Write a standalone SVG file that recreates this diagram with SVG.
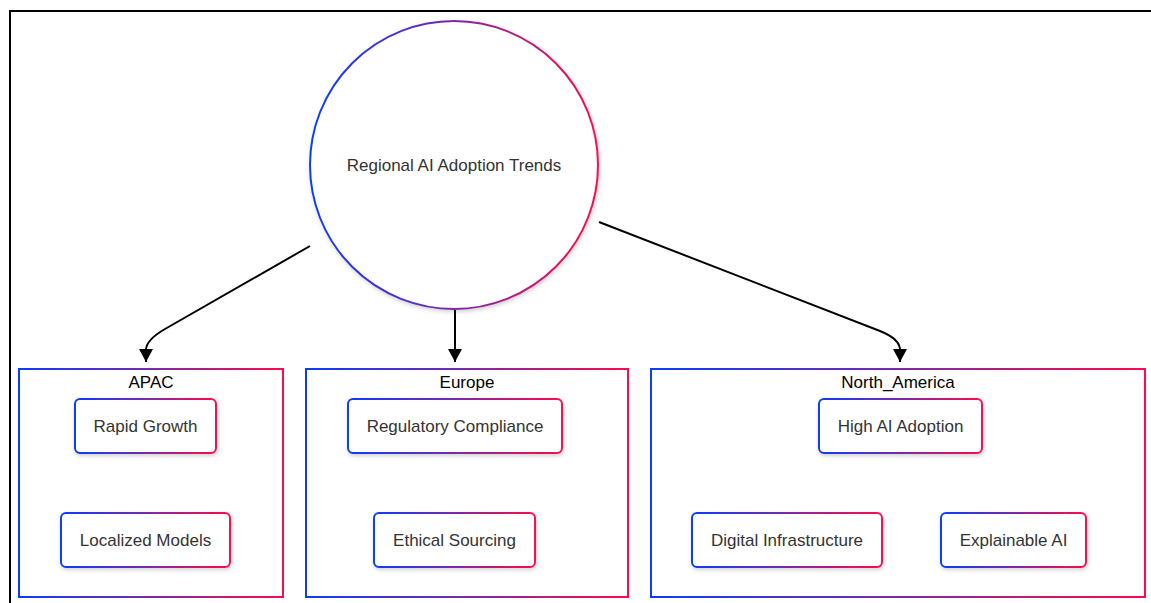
<svg xmlns="http://www.w3.org/2000/svg" width="1151" height="603" viewBox="0 0 1151 603">
<defs>
<linearGradient id="g" x1="0" y1="0" x2="1" y2="0" gradientUnits="objectBoundingBox">
<stop offset="0" stop-color="#0a3cff"/>
<stop offset="0.5" stop-color="#7a2aa8"/>
<stop offset="1" stop-color="#ff0a4a"/>
</linearGradient>
<filter id="sh" x="-20%" y="-20%" width="140%" height="150%">
<feDropShadow dx="1" dy="2" stdDeviation="2" flood-color="#000" flood-opacity="0.18"/>
</filter>
<marker id="ah" viewBox="0 0 14 13" refX="7" refY="13" markerWidth="14" markerHeight="13" markerUnits="userSpaceOnUse" orient="0">
<path d="M0,0 L14,0 L7,13 Z" fill="#000"/>
</marker>
</defs>
<style>
.cl{fill:#fff;stroke:url(#g);stroke-width:2}
.nd{fill:#fff;stroke:url(#g);stroke-width:2;filter:url(#sh)}
.t{font-family:"Liberation Sans",Arial,sans-serif;font-size:17px;fill:#333;text-anchor:middle;dominant-baseline:central}
.ct{font-family:"Liberation Sans",Arial,sans-serif;font-size:17px;fill:#000;text-anchor:middle;dominant-baseline:central}
.e{fill:none;stroke:#000;stroke-width:2}
</style>
<rect x="0" y="0" width="1151" height="603" fill="#fff"/>
<path d="M10,603 L10,11 L1151,11" fill="none" stroke="#000" stroke-width="2"/>

<g id="cluster-APAC">
<rect class="cl" x="19" y="369" width="264" height="228"/>
<text class="ct" x="151" y="382">APAC</text>
</g>
<g id="cluster-Europe">
<rect class="cl" x="306" y="369" width="322" height="228"/>
<text class="ct" x="467" y="382">Europe</text>
</g>
<g id="cluster-North_America">
<rect class="cl" x="651" y="369" width="494" height="228"/>
<text class="ct" x="898" y="382">North_America</text>
</g>

<g id="edges">
<path class="e" d="M310,246 L165,329 Q146,340 146,350 L146,362" marker-end="url(#ah)"/>
<path class="e" d="M455,310 L455,362" marker-end="url(#ah)"/>
<path class="e" d="M599,222 L880,331 Q900,339 900,350 L900,362" marker-end="url(#ah)"/>
</g>

<g id="node-root">
<circle cx="454" cy="165" r="144" fill="#fff" stroke="url(#g)" stroke-width="2" filter="url(#sh)"/>
<text class="t" x="454" y="165">Regional AI Adoption Trends</text>
</g>

<g id="node-rapid-growth">
<rect class="nd" x="75" y="399" width="141" height="54" rx="5"/>
<text class="t" x="145.5" y="426">Rapid Growth</text>
</g>
<g id="node-localized-models">
<rect class="nd" x="61" y="513" width="169" height="54" rx="5"/>
<text class="t" x="145.5" y="540">Localized Models</text>
</g>
<g id="node-regulatory-compliance">
<rect class="nd" x="348" y="399" width="214" height="54" rx="5"/>
<text class="t" x="455" y="426">Regulatory Compliance</text>
</g>
<g id="node-ethical-sourcing">
<rect class="nd" x="374" y="513" width="161" height="54" rx="5"/>
<text class="t" x="454.5" y="540">Ethical Sourcing</text>
</g>
<g id="node-high-ai-adoption">
<rect class="nd" x="819" y="399" width="163" height="54" rx="5"/>
<text class="t" x="900.5" y="426">High AI Adoption</text>
</g>
<g id="node-digital-infrastructure">
<rect class="nd" x="692" y="513" width="190" height="54" rx="5"/>
<text class="t" x="787" y="540">Digital Infrastructure</text>
</g>
<g id="node-explainable-ai">
<rect class="nd" x="941" y="513" width="145" height="54" rx="5"/>
<text class="t" x="1013.5" y="540">Explainable AI</text>
</g>
</svg>
